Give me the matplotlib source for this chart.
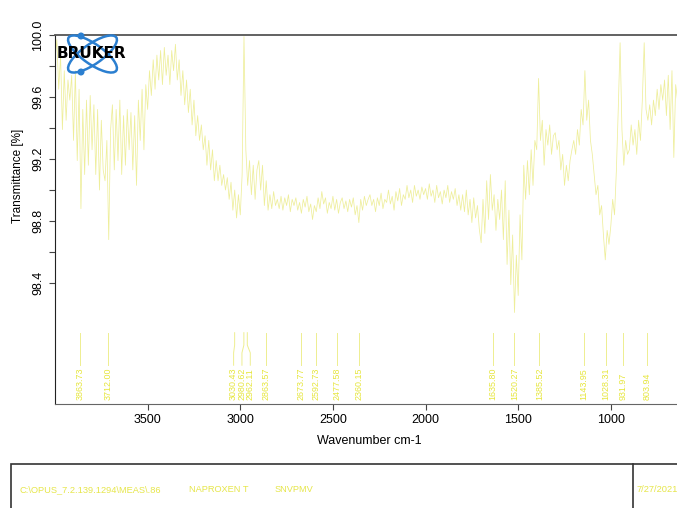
import numpy as np
import matplotlib
matplotlib.use("Agg")
import matplotlib.pyplot as plt
from matplotlib.patches import Ellipse, Circle, Rectangle

plt.rcParams["font.family"] = ["Liberation Sans", "DejaVu Sans"]

# spectrum, sampled every 10 cm-1 from 4000 down to 610
wavenumber = np.arange(4000, 600, -10)
transmittance = [
    99.84, 99.97, 99.65, 99.87, 99.39, 99.77, 99.45, 99.71, 99.58, 99.74,
    99.32, 99.77, 99.19, 99.65, 98.88, 99.52, 99.10, 99.58, 99.16, 99.61,
    99.26, 99.55, 99.10, 99.52, 99.00, 99.45, 99.13, 99.06, 99.32, 98.68,
    99.39, 99.55, 99.13, 99.52, 99.19, 99.58, 99.10, 99.48, 99.16, 99.52,
    99.26, 99.50, 99.13, 99.48, 99.03, 99.58, 99.32, 99.65, 99.26, 99.68,
    99.52, 99.77, 99.61, 99.84, 99.65, 99.87, 99.71, 99.90, 99.68, 99.92,
    99.74, 99.87, 99.68, 99.90, 99.77, 99.94, 99.71, 99.84, 99.61, 99.77,
    99.55, 99.71, 99.50, 99.65, 99.42, 99.58, 99.35, 99.48, 99.32, 99.42,
    99.26, 99.35, 99.16, 99.32, 99.13, 99.26, 99.06, 99.19, 99.06, 99.16,
    99.03, 99.10, 99.00, 99.08, 98.94, 99.05, 98.87, 99.00, 98.82, 98.97,
    98.84, 99.10, 99.99, 99.26, 99.03, 99.19, 98.97, 99.16, 98.94, 99.13,
    99.19, 99.00, 99.16, 98.90, 99.06, 98.87, 98.97, 98.88, 98.99, 98.90,
    98.94, 98.88, 98.96, 98.87, 98.95, 98.90, 98.97, 98.86, 98.94, 98.90,
    98.95, 98.87, 98.92, 98.85, 98.94, 98.89, 98.96, 98.86, 98.91, 98.81,
    98.90, 98.86, 98.95, 98.88, 98.99, 98.91, 98.95, 98.85, 98.92, 98.88,
    98.96, 98.87, 98.94, 98.85, 98.92, 98.95, 98.88, 98.93, 98.86, 98.94,
    98.89, 98.95, 98.84, 98.90, 98.79, 98.94, 98.87, 98.96, 98.90, 98.94,
    98.97, 98.90, 98.94, 98.86, 98.95, 98.90, 98.98, 98.88, 98.94, 98.92,
    99.00, 98.91, 98.96, 98.87, 98.99, 98.93, 99.01, 98.90, 98.97, 98.94,
    99.03, 98.95, 99.00, 98.92, 99.03, 98.96, 99.00, 98.94, 99.02, 98.97,
    99.01, 98.94, 99.04, 98.96, 99.00, 98.92, 99.03, 98.95, 98.99, 98.91,
    99.00, 98.95, 99.03, 98.92, 98.99, 98.94, 99.01, 98.90, 98.97, 98.87,
    98.97, 98.86, 99.00, 98.84, 98.94, 98.79, 98.95, 98.82, 98.90, 98.75,
    98.66, 98.94, 98.72, 99.06, 98.81, 99.10, 98.87, 98.97, 98.74, 98.94,
    98.81, 99.00, 98.68, 99.06, 98.52, 98.87, 98.39, 98.71, 98.21, 98.58,
    98.32, 98.84, 98.55, 99.16, 98.94, 99.19, 98.97, 99.26, 99.03, 99.32,
    99.26, 99.72, 99.32, 99.45, 99.16, 99.39, 99.29, 99.42, 99.23, 99.35,
    99.37, 99.26, 99.32, 99.13, 99.23, 99.03, 99.16, 99.06, 99.19, 99.26,
    99.32, 99.23, 99.39, 99.29, 99.52, 99.42, 99.77, 99.45, 99.58, 99.32,
    99.23, 99.10, 98.97, 99.03, 98.84, 98.90, 98.71, 98.55, 98.74, 98.65,
    98.77, 98.94, 98.84, 99.13, 99.52, 99.95, 99.39, 99.16, 99.32, 99.23,
    99.26, 99.42, 99.29, 99.39, 99.23, 99.45, 99.32, 99.58, 99.95, 99.52,
    99.45, 99.55, 99.42, 99.58, 99.48, 99.65, 99.52, 99.68, 99.58, 99.71,
    99.48, 99.74, 99.39, 99.77, 99.21, 99.68, 99.58, 99.74, 99.61, 99.71,
]

# peak picks and where their labels sit (crowded ones nudged apart)
peaks = [3863.73, 3712.00, 3030.43, 2980.62, 2962.11, 2863.57, 2673.77, 2592.73,
         2477.58, 2360.15, 1635.80, 1520.27, 1385.52, 1143.95, 1028.31, 931.97, 803.94]
label_pos = [3863.73, 3712.00, 3036.0, 2991.0, 2946.0, 2863.57, 2673.77, 2592.73,
             2477.58, 2360.15, 1635.80, 1520.27, 1385.52, 1143.95, 1028.31, 931.97, 803.94]

footer = ["C:\\OPUS_7.2.139.1294\\MEAS\\.86", "NAPROXEN T", "SNVPMV", "7/27/2021"]

fig = plt.figure(figsize=(6.77, 5.08), dpi=100)
ax = fig.add_axes([55 / 677, 104 / 508, 667 / 677, 369 / 508])

ax.plot(wavenumber, transmittance, color="#eeee9a", lw=0.55)

label_col = "#e6e63c"
for p, lp in zip(peaks, label_pos):
    ax.plot([p, p, lp, lp], [98.08, 98.00, 97.95, 97.87], color="#eeee90", lw=0.7)
    ax.text(lp, 97.645, f"{p:.2f}", rotation=90, ha="center", va="bottom",
            fontsize=6.4, color=label_col)

ax.set_xlim(4000, 400)
ax.set_ylim(97.62, 100.0)
ax.set_xticks([3500, 3000, 2500, 2000, 1500, 1000])
ax.set_yticks(np.arange(98.4, 100.01, 0.2))
ax.set_yticklabels(["98.4", "", "98.8", "", "99.2", "", "99.6", "", "100.0"],
                   rotation=90, va="center")
ax.tick_params(axis="both", labelsize=9, length=4, color="#444444", pad=3)
ax.tick_params(axis="y", pad=4)
ax.spines["top"].set_color("#555555")
ax.spines["top"].set_linewidth(1.3)
ax.spines["bottom"].set_color("#666666")
ax.spines["left"].set_color("#222222")

fig.text(18 / 677, 1 - 176 / 508, "Transmittance [%]", rotation=90,
         ha="center", va="center", fontsize=8.5)
fig.text(369 / 677, 1 - 441 / 508, "Wavenumber cm-1", ha="center", va="center",
         fontsize=9)

# Bruker logo, drawn in inch units (100 px per inch)
tr = fig.dpi_scale_trans
cx, cy = 0.925, (508 - 54) / 100
for ang in (35, -35):
    fig.add_artist(Ellipse((cx, cy), 0.58, 0.2, angle=ang, fill=False,
                           edgecolor="#2b7fd0", lw=1.8, transform=tr))
fig.add_artist(Circle((0.81, (508 - 36) / 100), 0.028, color="#2b7fd0", transform=tr))
fig.add_artist(Circle((0.81, (508 - 72) / 100), 0.028, color="#2b7fd0", transform=tr))
fig.text(0.915, cy, "BRUKER", transform=tr, ha="center", va="center",
         fontsize=11, fontweight="heavy", family="DejaVu Sans", color="black")

# footer box
fig.add_artist(Rectangle((0.11, -0.2), 7.0, 0.64, fill=False, edgecolor="#333333",
                         lw=1.2, transform=tr))
fig.add_artist(plt.Line2D([6.33, 6.33], [-0.2, 0.44], color="#333333", lw=1.2,
                          transform=tr))
for txt, xp in zip(footer, [0.19, 1.89, 2.75, 6.37]):
    fig.text(xp, 0.18, txt, transform=tr, ha="left", va="center",
             fontsize=6.7, color="#e6e64a")

fig.savefig("out.png", dpi=100)
